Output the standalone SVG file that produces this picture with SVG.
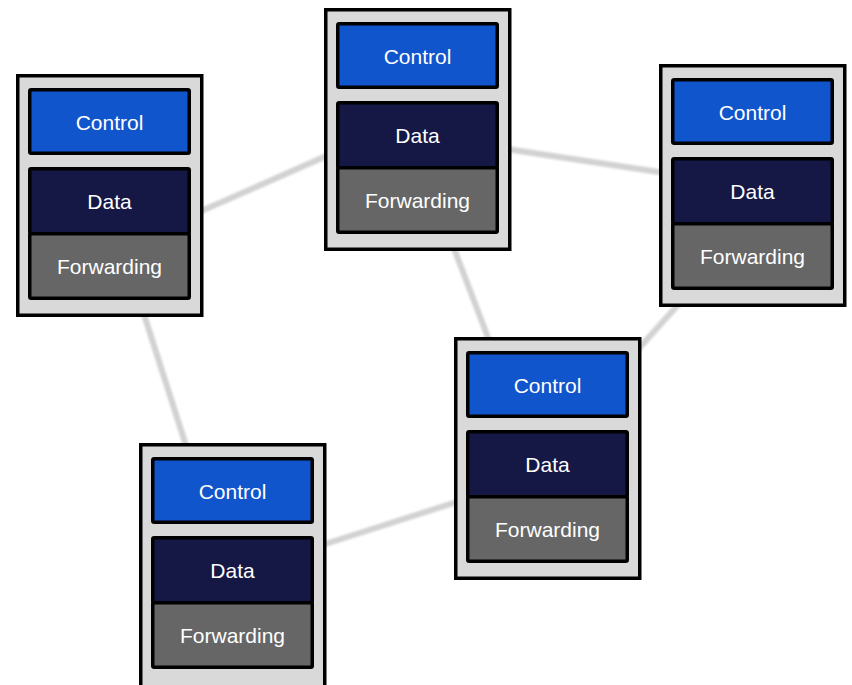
<svg xmlns="http://www.w3.org/2000/svg" width="852" height="685" viewBox="0 0 852 685">
  <defs>
    <filter id="soft" x="-10%" y="-10%" width="120%" height="120%">
      <feGaussianBlur stdDeviation="1.2"/>
    </filter>
    <style>
      .outer { fill: #d9d9d9; stroke: #000; stroke-width: 3.5; }
      .ctl { fill: #1155cc; stroke: #000; stroke-width: 3.5; }
      .dat { fill: #151744; stroke: #000; stroke-width: 3.5; }
      .fwd { fill: #666666; stroke: #000; stroke-width: 3.5; }
      .lbl { fill: #ffffff; font-family: "Liberation Sans", Arial, sans-serif; font-size: 21px; text-anchor: middle; }
      .link { stroke: #d2d2d2; stroke-width: 6; fill: none; stroke-linecap: butt; }
    </style>
  </defs>
  <rect width="852" height="685" fill="#ffffff"/>
  <g id="connectors" filter="url(#soft)">
    <line class="link" x1="190" y1="216" x2="340" y2="150"/>
    <line class="link" x1="500" y1="148" x2="672" y2="174"/>
    <line class="link" x1="450" y1="238" x2="492" y2="348"/>
    <line class="link" x1="686" y1="296" x2="632" y2="356"/>
    <line class="link" x1="141" y1="305" x2="189" y2="455"/>
    <line class="link" x1="316" y1="547" x2="466" y2="499"/>
  </g>
  <g id="node1" transform="translate(16,74)">
    <rect class="outer" x="1.75" y="1.75" width="184" height="239.5"/>
    <rect class="ctl" x="13.75" y="15.75" width="159.5" height="63.5" rx="1.5"/>
    <rect class="dat" x="13.75" y="94.75" width="159.5" height="65" rx="1.5"/>
    <rect class="fwd" x="13.75" y="159.75" width="159.5" height="64.5" rx="1.5"/>
    <text class="lbl" x="93.5" y="55.5">Control</text>
    <text class="lbl" x="93.5" y="134.5">Data</text>
    <text class="lbl" x="93.5" y="200">Forwarding</text>
  </g>
  <g id="node2" transform="translate(324,8)">
    <rect class="outer" x="1.75" y="1.75" width="184" height="239.5"/>
    <rect class="ctl" x="13.75" y="15.75" width="159.5" height="63.5" rx="1.5"/>
    <rect class="dat" x="13.75" y="94.75" width="159.5" height="65" rx="1.5"/>
    <rect class="fwd" x="13.75" y="159.75" width="159.5" height="64.5" rx="1.5"/>
    <text class="lbl" x="93.5" y="55.5">Control</text>
    <text class="lbl" x="93.5" y="134.5">Data</text>
    <text class="lbl" x="93.5" y="200">Forwarding</text>
  </g>
  <g id="node3" transform="translate(139,443)">
    <rect class="outer" x="1.75" y="1.75" width="184" height="246"/>
    <rect class="ctl" x="13.75" y="15.75" width="159.5" height="63.5" rx="1.5"/>
    <rect class="dat" x="13.75" y="94.75" width="159.5" height="65" rx="1.5"/>
    <rect class="fwd" x="13.75" y="159.75" width="159.5" height="64.5" rx="1.5"/>
    <text class="lbl" x="93.5" y="55.5">Control</text>
    <text class="lbl" x="93.5" y="134.5">Data</text>
    <text class="lbl" x="93.5" y="200">Forwarding</text>
  </g>
  <g id="node4" transform="translate(454,337)">
    <rect class="outer" x="1.75" y="1.75" width="184" height="239.5"/>
    <rect class="ctl" x="13.75" y="15.75" width="159.5" height="63.5" rx="1.5"/>
    <rect class="dat" x="13.75" y="94.75" width="159.5" height="65" rx="1.5"/>
    <rect class="fwd" x="13.75" y="159.75" width="159.5" height="64.5" rx="1.5"/>
    <text class="lbl" x="93.5" y="55.5">Control</text>
    <text class="lbl" x="93.5" y="134.5">Data</text>
    <text class="lbl" x="93.5" y="200">Forwarding</text>
  </g>
  <g id="node5" transform="translate(659,64)">
    <rect class="outer" x="1.75" y="1.75" width="184" height="239.5"/>
    <rect class="ctl" x="13.75" y="15.75" width="159.5" height="63.5" rx="1.5"/>
    <rect class="dat" x="13.75" y="94.75" width="159.5" height="65" rx="1.5"/>
    <rect class="fwd" x="13.75" y="159.75" width="159.5" height="64.5" rx="1.5"/>
    <text class="lbl" x="93.5" y="55.5">Control</text>
    <text class="lbl" x="93.5" y="134.5">Data</text>
    <text class="lbl" x="93.5" y="200">Forwarding</text>
  </g>
</svg>
